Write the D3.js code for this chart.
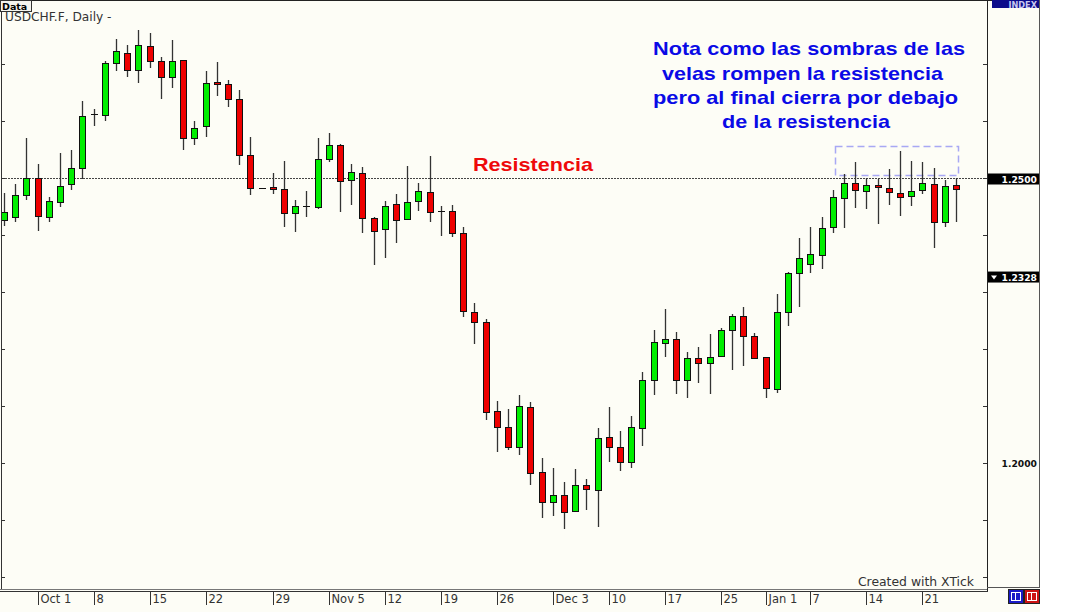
<!DOCTYPE html>
<html>
<head>
<meta charset="utf-8">
<script src="https://cdnjs.cloudflare.com/ajax/libs/d3/7.8.5/d3.min.js"></script>
<style>
  html, body { margin: 0; padding: 0; background: #ffffff; }
  svg { display: block; }
</style>
</head>
<body>
<div id="chart"></div>
<script>
// USDCHF.F daily candles (86 sessions, Sep 27 .. Jan 24)
const opens = [1.2426, 1.2432, 1.2470, 1.2500, 1.2432, 1.2458, 1.2489, 1.2518, 1.2611, 1.2611,
  1.2702, 1.2719, 1.2689, 1.2732, 1.2705, 1.2677, 1.2707, 1.2570, 1.2591, 1.2668,
  1.2665, 1.2639, 1.2540, 1.2482, 1.2484, 1.2481, 1.2439, 1.2451, 1.2449, 1.2533,
  1.2558, 1.2496, 1.2509, 1.2430, 1.2411, 1.2454, 1.2428, 1.2460, 1.2475, 1.2442,
  1.2442, 1.2404, 1.2265, 1.2247, 1.2091, 1.2063, 1.2028, 1.2098, 1.1984, 1.1932,
  1.1944, 1.1916, 1.1961, 1.1953, 1.2046, 1.2028, 1.2002, 1.2061, 1.2146, 1.2211,
  1.2218, 1.2146, 1.2184, 1.2175, 1.2188, 1.2233, 1.2258, 1.2223, 1.2186, 1.2130,
  1.2265, 1.2333, 1.2349, 1.2365, 1.2414, 1.2465, 1.2491, 1.2477, 1.2488, 1.2482,
  1.2474, 1.2468, 1.2479, 1.2489, 1.2423, 1.2488];
const highs = [1.2474, 1.2489, 1.2570, 1.2525, 1.2467, 1.2544, 1.2549, 1.2635, 1.2621, 1.2705,
  1.2744, 1.2733, 1.2760, 1.2754, 1.2712, 1.2742, 1.2707, 1.2600, 1.2688, 1.2704,
  1.2672, 1.2654, 1.2572, 1.2483, 1.2509, 1.2530, 1.2461, 1.2477, 1.2570, 1.2579,
  1.2560, 1.2525, 1.2519, 1.2432, 1.2460, 1.2472, 1.2521, 1.2491, 1.2539, 1.2451,
  1.2453, 1.2414, 1.2281, 1.2253, 1.2109, 1.2095, 1.2119, 1.2107, 1.2009, 1.1991,
  1.1967, 1.1990, 1.1972, 1.2061, 1.2098, 1.2056, 1.2082, 1.2160, 1.2233, 1.2270,
  1.2230, 1.2195, 1.2204, 1.2226, 1.2237, 1.2261, 1.2274, 1.2228, 1.2186, 1.2296,
  1.2335, 1.2395, 1.2414, 1.2432, 1.2479, 1.2507, 1.2528, 1.2500, 1.2498, 1.2516,
  1.2547, 1.2530, 1.2528, 1.2518, 1.2496, 1.2500];
const lows = [1.2416, 1.2423, 1.2461, 1.2407, 1.2423, 1.2449, 1.2479, 1.2498, 1.2591, 1.2600,
  1.2688, 1.2677, 1.2667, 1.2693, 1.2639, 1.2658, 1.2549, 1.2558, 1.2572, 1.2644,
  1.2625, 1.2523, 1.2470, 1.2481, 1.2472, 1.2414, 1.2405, 1.2432, 1.2446, 1.2528,
  1.2440, 1.2453, 1.2404, 1.2347, 1.2360, 1.2386, 1.2426, 1.2442, 1.2423, 1.2398,
  1.2397, 1.2256, 1.2209, 1.2075, 1.2019, 1.2023, 1.2014, 1.1961, 1.1904, 1.1907,
  1.1884, 1.1914, 1.1918, 1.1888, 1.2002, 1.1986, 1.1991, 1.2030, 1.2119, 1.2186,
  1.2121, 1.2114, 1.2140, 1.2121, 1.2186, 1.2163, 1.2170, 1.2184, 1.2114, 1.2123,
  1.2240, 1.2274, 1.2333, 1.2340, 1.2404, 1.2412, 1.2447, 1.2446, 1.2419, 1.2453,
  1.2433, 1.2451, 1.2472, 1.2377, 1.2414, 1.2423];
const closes = [1.2440, 1.2470, 1.2500, 1.2433, 1.2460, 1.2486, 1.2518, 1.2609, 1.2612, 1.2702,
  1.2723, 1.2689, 1.2733, 1.2705, 1.2677, 1.2705, 1.2570, 1.2588, 1.2667, 1.2665,
  1.2639, 1.2540, 1.2482, 1.2482, 1.2481, 1.2439, 1.2451, 1.2451, 1.2533, 1.2558,
  1.2495, 1.2511, 1.2430, 1.2407, 1.2451, 1.2426, 1.2458, 1.2477, 1.2440, 1.2442,
  1.2404, 1.2267, 1.2247, 1.2089, 1.2063, 1.2028, 1.2100, 1.1982, 1.1932, 1.1944,
  1.1914, 1.1961, 1.1954, 1.2044, 1.2028, 1.2002, 1.2063, 1.2146, 1.2212, 1.2218,
  1.2146, 1.2184, 1.2175, 1.2186, 1.2233, 1.2258, 1.2223, 1.2184, 1.2132, 1.2265,
  1.2333, 1.2360, 1.2367, 1.2412, 1.2467, 1.2491, 1.2479, 1.2488, 1.2484, 1.2475,
  1.2467, 1.2477, 1.2491, 1.2423, 1.2486, 1.2481];

// x axis: candle index of each week label
const tickIndex = [3, 8, 13, 18, 24, 29, 34, 39, 44, 49, 54, 59, 64, 68, 72, 77, 82];
const tickLabels = ["Oct 1", "8", "15", "22", "29", "Nov 5", "12", "19", "26",
  "Dec 3", "10", "17", "25", "Jan 1", "7", "14", "21"];

// price axis
const priceTicks = [1.18, 1.19, 1.20, 1.21, 1.22, 1.23, 1.24, 1.25, 1.26, 1.27];
const priceLabels = [1.2000];
const resistance = 1.2500;
const lastMark = 1.2328;
const boxTop = 1.2556, boxBottom = 1.2505, boxFrom = 74, boxTo = 85;

const noteLines = ["Nota como las sombras de las", "velas rompen la resistencia",
  "pero al final cierra por debajo", "de la resistencia"];
const resLabel = "Resistencia";

const W = 1070, H = 612;
const plotRight = 987, plotBottom = 590, panelRight = 1040;

const svg = d3.select("#chart").append("svg")
  .attr("width", W).attr("height", H);

// 背景
svg.append("rect").attr("width", panelRight).attr("height", H).attr("fill", "#fdfdf6");

const x = d3.scaleLinear().domain([0, opens.length - 1]).range([4, 956]);
const y = d3.scaleLinear().domain([1.20, 1.25]).range([463, 178]);

const candles = d3.range(opens.length).map(i => ({
  i, o: opens[i], h: highs[i], l: lows[i], c: closes[i]
}));

// resistance line
svg.append("line")
  .attr("x1", 2).attr("x2", plotRight)
  .attr("y1", Math.round(y(resistance)) + 0.5).attr("y2", Math.round(y(resistance)) + 0.5)
  .attr("stroke", "#444").attr("stroke-dasharray", "2,1");

// dashed box over the wicks
svg.append("rect")
  .attr("x", Math.round(x(boxFrom)) + 2.5)
  .attr("y", Math.round(y(boxTop)) + 0.5)
  .attr("width", Math.round(x(boxTo) - x(boxFrom)))
  .attr("height", Math.round(y(boxBottom) - y(boxTop)))
  .attr("fill", "none").attr("stroke", "#a8a8f4").attr("stroke-width", 1.5)
  .attr("stroke-dasharray", "7,4");

// candles
const g = svg.append("g");
candles.forEach(d => {
  const cx = Math.round(x(d.i));
  const yH = Math.round(y(d.h)), yL = Math.round(y(d.l));
  const yO = Math.round(y(d.o)), yC = Math.round(y(d.c));
  if (yL - yH > 1) {
    g.append("line")
      .attr("x1", cx + 0.5).attr("x2", cx + 0.5)
      .attr("y1", yH).attr("y2", yL)
      .attr("stroke", "#333").attr("stroke-width", 1.3);
  }
  if (Math.abs(d.o - d.c) < 0.00012) {
    g.append("line")
      .attr("x1", cx - 3).attr("x2", cx + 4)
      .attr("y1", yC + 0.5).attr("y2", yC + 0.5)
      .attr("stroke", "#111");
  } else {
    const top = Math.min(yO, yC), bot = Math.max(yO, yC);
    g.append("rect")
      .attr("x", cx - 3 + 0.5).attr("y", top + 0.5)
      .attr("width", 6).attr("height", Math.max(1, bot - top))
      .attr("fill", d.c > d.o ? "#00ee00" : "#ee0000")
      .attr("stroke", "#111");
  }
});

// frame
const frame = svg.append("g").attr("stroke-width", 1).attr("fill", "none");
frame.append("line").attr("x1", 0).attr("x2", panelRight).attr("y1", 0.5).attr("y2", 0.5).attr("stroke", "#222");
frame.append("line").attr("x1", 1.5).attr("x2", 1.5).attr("y1", 0).attr("y2", plotBottom).attr("stroke", "#333");
frame.append("line").attr("x1", plotRight + 0.5).attr("x2", plotRight + 0.5).attr("y1", 0).attr("y2", plotBottom + 2).attr("stroke", "#222");
frame.append("line").attr("x1", panelRight - 0.5).attr("x2", panelRight - 0.5).attr("y1", 0).attr("y2", 587).attr("stroke", "#555");
frame.append("line").attr("x1", plotRight).attr("x2", panelRight).attr("y1", 587.5).attr("y2", 587.5).attr("stroke", "#555");
frame.append("line").attr("x1", 0).attr("x2", plotRight).attr("y1", plotBottom - 0.5).attr("y2", plotBottom - 0.5).attr("stroke", "#777");
frame.append("line").attr("x1", 0).attr("x2", plotRight + 1).attr("y1", plotBottom + 1.5).attr("y2", plotBottom + 1.5).attr("stroke", "#333");

// price ticks on both sides
priceTicks.forEach(p => {
  const yy = Math.round(y(p)) + 0.5;
  svg.append("line").attr("x1", plotRight - 4).attr("x2", plotRight).attr("y1", yy).attr("y2", yy).attr("stroke", "#333");
  svg.append("line").attr("x1", 1).attr("x2", 5).attr("y1", yy).attr("y2", yy).attr("stroke", "#333");
});

const axisFont = "'DejaVu Sans', Verdana, sans-serif";

priceLabels.forEach(p => {
  svg.append("text")
    .attr("x", 1037).attr("y", y(p) + 3.5)
    .attr("text-anchor", "end")
    .attr("font-family", axisFont).attr("font-weight", "bold").attr("font-size", "9.2px")
    .attr("fill", "#111")
    .text(p.toFixed(4));
});

// black price boxes
function priceBox(p, arrow) {
  const cy = y(p) + 1.5;
  svg.append("rect").attr("x", plotRight + 1).attr("y", cy - 6).attr("width", panelRight - plotRight - 2).attr("height", 11)
    .attr("fill", "#000");
  svg.append("text")
    .attr("x", 1037).attr("y", cy + 3.5)
    .attr("text-anchor", "end")
    .attr("font-family", axisFont).attr("font-weight", "bold").attr("font-size", "9.2px")
    .attr("fill", "#fff")
    .text(p.toFixed(4));
  if (arrow) {
    svg.append("path")
      .attr("d", `M${plotRight + 4},${cy - 2} L${plotRight + 10},${cy - 2} L${plotRight + 7},${cy + 2} Z`)
      .attr("fill", "#fff");
  }
}
priceBox(resistance, false);
priceBox(lastMark, true);

// x axis ticks + labels
tickIndex.forEach((idx, k) => {
  const tx = Math.round(x(idx)) + 0.5;
  svg.append("line").attr("x1", tx).attr("x2", tx).attr("y1", plotBottom + 2).attr("y2", 605).attr("stroke", "#333");
  svg.append("text")
    .attr("x", tx + 2).attr("y", 603)
    .attr("font-family", axisFont).attr("font-size", "11.5px").attr("fill", "#333")
    .text(tickLabels[k]);
});

// top-left header
svg.append("rect").attr("x", 0.5).attr("y", 0.5).attr("width", 31).attr("height", 11)
  .attr("fill", "#f4f4ee").attr("stroke", "#333");
svg.append("text").attr("x", 2).attr("y", 9.5)
  .attr("font-family", axisFont).attr("font-weight", "bold").attr("font-size", "9.5px").attr("fill", "#000")
  .text("Data");
svg.append("text").attr("x", 5).attr("y", 20.5)
  .attr("font-family", axisFont).attr("font-size", "12.2px").attr("fill", "#333")
  .text("USDCHF.F, Daily -");

// INDEX tab
svg.append("rect").attr("x", 992).attr("y", 0).attr("width", 47).attr("height", 8).attr("fill", "#0c0c8a");
svg.append("text").attr("x", 1037).attr("y", 7.5).attr("text-anchor", "end")
  .attr("font-family", axisFont).attr("font-weight", "bold").attr("font-size", "8.2px").attr("fill", "#c8c8f0")
  .text("INDEX");

svg.append("text").attr("x", 974).attr("y", 585.5).attr("text-anchor", "end")
  .attr("font-family", axisFont).attr("font-size", "12.4px").attr("fill", "#333")
  .text("Created with XTick");

// bottom right buttons
[["#1a1ac8", 1008], ["#cc1414", 1024]].forEach(([col, bx]) => {
  svg.append("rect").attr("x", bx + 0.5).attr("y", 589.5).attr("width", 15).attr("height", 14)
    .attr("fill", col).attr("stroke", "#222");
  svg.append("rect").attr("x", bx + 3.5).attr("y", 592.5).attr("width", 9).attr("height", 8)
    .attr("fill", "none").attr("stroke", "#fff");
  svg.append("line").attr("x1", bx + 7.5).attr("x2", bx + 7.5).attr("y1", 593).attr("y2", 600).attr("stroke", "#fff");
});

// annotations
const noteFont = "'Liberation Sans', Arial, Helvetica, sans-serif";
const noteX = [653, 662, 653, 722];
const noteLen = [312, 281, 305, 168];
const noteY = [55, 79.5, 104, 128];
noteLines.forEach((t, k) => {
  svg.append("text")
    .attr("x", noteX[k]).attr("y", noteY[k])
    .attr("textLength", noteLen[k]).attr("lengthAdjust", "spacingAndGlyphs")
    .attr("font-family", noteFont).attr("font-weight", "bold").attr("font-size", "18.5px")
    .attr("fill", "#0a0ae6")
    .text(t);
});
svg.append("text")
  .attr("x", 473).attr("y", 170.5)
  .attr("textLength", 120).attr("lengthAdjust", "spacingAndGlyphs")
  .attr("font-family", noteFont).attr("font-weight", "bold").attr("font-size", "18.5px")
  .attr("fill", "#ee0a0a")
  .text(resLabel);
</script>
</body>
</html>
